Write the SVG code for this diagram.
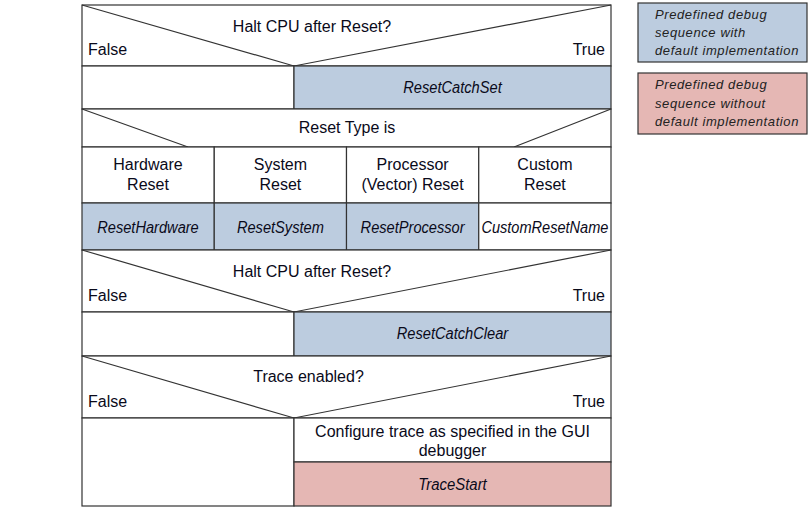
<svg xmlns="http://www.w3.org/2000/svg" width="810" height="508" viewBox="0 0 810 508">
<style>
.ln{stroke:#333;stroke-width:1.2;fill:none}
.bx{stroke:#333;stroke-width:1.2}
.w{fill:#fff}
.b{fill:#BCCCDF}
.p{fill:#E5B7B4}
.t{font-family:"Liberation Sans",Arial,sans-serif;font-size:16px;fill:#0a0a1a}
.m{text-anchor:middle}
.e{text-anchor:end}
.i{font-style:italic}
.lg{font-family:"Liberation Sans",Arial,sans-serif;font-size:13px;font-style:italic;fill:#222;letter-spacing:0.6px}
</style>
<rect width="810" height="508" fill="#fff"/>
<g id="decision1">
<rect class="bx w" x="82" y="5" width="529" height="61"/>
<path class="ln" d="M82 5 L294 66 L611 5"/>
<text class="t m" x="312" y="32">Halt CPU after Reset?</text>
<text class="t" x="88" y="55">False</text>
<text class="t e" x="605" y="55">True</text>
</g>
<g id="row1">
<rect class="bx w" x="82" y="66" width="212" height="43"/>
<rect class="bx b" x="294" y="66" width="317" height="43"/>
<text class="t m i" x="452.5" y="93" textLength="98.5" lengthAdjust="spacingAndGlyphs">ResetCatchSet</text>
</g>
<g id="resettype">
<rect class="bx w" x="82" y="109" width="529" height="38"/>
<path class="ln" d="M82 109 L188 147 M611 109 L514 147"/>
<text class="t m" x="347" y="133">Reset Type is</text>
</g>
<g id="hardware">
<rect class="bx w" x="82" y="147" width="132.25" height="56"/>
<text class="t m" x="148" y="170">Hardware</text>
<text class="t m" x="148" y="190">Reset</text>
<rect class="bx b" x="82" y="203" width="132.25" height="47"/>
<text class="t m i" x="148" y="233" textLength="101.5" lengthAdjust="spacingAndGlyphs">ResetHardware</text>
</g>
<g id="system">
<rect class="bx w" x="214.25" y="147" width="132.25" height="56"/>
<text class="t m" x="280.4" y="170">System</text>
<text class="t m" x="280.4" y="190">Reset</text>
<rect class="bx b" x="214.25" y="203" width="132.25" height="47"/>
<text class="t m i" x="280.4" y="233" textLength="87" lengthAdjust="spacingAndGlyphs">ResetSystem</text>
</g>
<g id="processor">
<rect class="bx w" x="346.5" y="147" width="132.25" height="56"/>
<text class="t m" x="412.6" y="170">Processor</text>
<text class="t m" x="412.6" y="190">(Vector) Reset</text>
<rect class="bx b" x="346.5" y="203" width="132.25" height="47"/>
<text class="t m i" x="412.6" y="233" textLength="104" lengthAdjust="spacingAndGlyphs">ResetProcessor</text>
</g>
<g id="custom">
<rect class="bx w" x="478.75" y="147" width="132.25" height="56"/>
<text class="t m" x="544.9" y="170">Custom</text>
<text class="t m" x="544.9" y="190">Reset</text>
<rect class="bx w" x="478.75" y="203" width="132.25" height="47"/>
<text class="t m i" x="544.9" y="233" textLength="127" lengthAdjust="spacingAndGlyphs">CustomResetName</text>
</g>
<g id="decision2">
<rect class="bx w" x="82" y="250" width="529" height="62"/>
<path class="ln" d="M82 250 L294 312 L611 250"/>
<text class="t m" x="312" y="277">Halt CPU after Reset?</text>
<text class="t" x="88" y="301">False</text>
<text class="t e" x="605" y="301">True</text>
</g>
<g id="row2">
<rect class="bx w" x="82" y="312" width="212" height="44"/>
<rect class="bx b" x="294" y="312" width="317" height="44"/>
<text class="t m i" x="452.5" y="339" textLength="111.5" lengthAdjust="spacingAndGlyphs">ResetCatchClear</text>
</g>
<g id="decision3">
<rect class="bx w" x="82" y="356" width="529" height="62"/>
<path class="ln" d="M82 356 L294 418 L611 356"/>
<text class="t m" x="308.5" y="382">Trace enabled?</text>
<text class="t" x="88" y="407">False</text>
<text class="t e" x="605" y="407">True</text>
</g>
<g id="row3">
<rect class="bx w" x="82" y="418" width="212" height="88"/>
<rect class="bx w" x="294" y="418" width="317" height="44"/>
<text class="t m" x="452.5" y="437">Configure trace as specified in the GUI</text>
<text class="t m" x="452.5" y="456">debugger</text>
<rect class="bx p" x="294" y="462" width="317" height="44"/>
<text class="t m i" x="452.5" y="490" textLength="68.5" lengthAdjust="spacingAndGlyphs">TraceStart</text>
</g>
<g id="legend1">
<rect class="bx b" x="638" y="3" width="169" height="59"/>
<text class="lg" x="655" y="19">Predefined debug</text>
<text class="lg" x="655" y="37">sequence with</text>
<text class="lg" x="655" y="55">default implementation</text>
</g>
<g id="legend2">
<rect class="bx p" x="638" y="73" width="169" height="61"/>
<text class="lg" x="655" y="89">Predefined debug</text>
<text class="lg" x="655" y="108">sequence without</text>
<text class="lg" x="655" y="126">default implementation</text>
</g>
<g id="connectors"></g>
</svg>
